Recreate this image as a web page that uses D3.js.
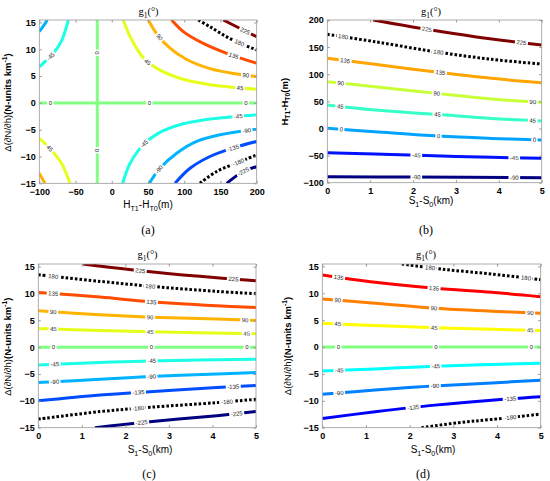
<!DOCTYPE html>
<html>
<head>
<meta charset="utf-8">
<script src="https://cdn.jsdelivr.net/npm/d3@7"></script>
<style>
  body { margin: 0; background: #fff; }
  svg { display: block; }
</style>
</head>
<body>
<svg id="chart" width="550" height="481"></svg>
<script>
// ---- datos ----
var ticksA_x = [-100, -50, 0, 50, 100, 150, 200];
var ticksDN = [-15, -10, -5, 0, 5, 10, 15];
var ticksS = [0, 1, 2, 3, 4, 5];
var ticksB_y = [-100, -50, 0, 50, 100, 150, 200];

// panel (a): x = HT1-HT0 (m), y = Δ(∂N/∂h)
var contoursA = [
  { level: 225,  pts: [[153.9, 15.46], [172.4, 14.2], [200, 12.35]] },
  { level: 180,  pts: [[119.4, 15.46], [135.5, 14.2], [163.1, 12.0], [200, 9.87]] },
  { level: 135,  pts: [[82.7, 15.46], [98.7, 13.3], [126.3, 11.1], [158.6, 9.25], [200, 7.4]] },
  { level: 90,   pts: [[50.4, 15.46], [62, 12.9], [80.4, 10.2], [103.4, 8.1], [135.5, 6.4], [172.4, 5.4], [200, 4.9]] },
  { level: 45,   pts: [[15.9, 15.46], [25.2, 12.4], [43.5, 8.4], [66.5, 6.1], [98.7, 4.4], [135.5, 3.4], [200, 2.55]] },
  { level: 0,    pts: [[-100, 0], [200, 0]] },
  { level: 0,    pts: [[-20, -15], [-20, 15.46]] },
  { level: -45,  pts: [[15, -15], [25.2, -11.3], [43.5, -7.8], [66.5, -5.5], [98.7, -3.9], [135.5, -3.0], [200, -2.23]] },
  { level: -90,  pts: [[51.8, -15], [66.5, -12.2], [89.6, -9.4], [117.2, -7.2], [149.3, -5.96], [200, -4.9]] },
  { level: -135, pts: [[87.3, -15], [108, -12.2], [135.5, -10.0], [167.7, -8.4], [200, -7.2]] },
  { level: -180, pts: [[121.7, -15], [144.8, -12.8], [172.4, -11.2], [200, -9.7]] },
  { level: -225, pts: [[158.6, -15], [181.5, -12.8], [200, -11.9]] },
  { level: -90,  pts: [[-100, 13.3], [-94, 14.4], [-89, 15.46]] },
  { level: -45,  pts: [[-100, 6.7], [-92.2, 7.7], [-80.7, 9.2], [-69.2, 11.6], [-60, 15.46]] },
  { level: 45,   pts: [[-100, -6.6], [-85.3, -8.5], [-69.2, -11.3], [-57.7, -15]] },
  { level: 90,   pts: [[-100, -13.1], [-96, -14.1], [-92.2, -15]] }
];
var labelsA = [
  [225, 183.8, 13.3], [180, 174.6, 10.8], [135, 167.7, 8.6], [90, 66.5, 12.3], [90, 185, 5.1],
  [45, 48.2, 7.4], [45, 177, 2.7], [0, -85, 0], [0, 51.8, 0], [0, 185, 0], [0, -20, 9.3], [0, -20, -8.8],
  [-45, -86.2, 8.9], [45, -85.2, -8.4], [-45, 48.2, -8.1], [-45, 174.6, -2.85], [-90, 65.6, -12.5],
  [-90, 186.2, -5.3], [-135, 167.7, -8.6], [-180, 174.6, -11.1], [-225, 183.8, -13.4]
];

// panel (b): x = S1-S0 (km), y = HT1-HT0 (m)
var contoursB = [
  { level: 225, pts: [[1.07, 200], [2.28, 183.4], [3.44, 169.3], [5, 153.9]] },
  { level: 180, pts: [[0, 173.6], [1.11, 160], [2.51, 141.6], [3.83, 127.5], [5, 118.8]] },
  { level: 135, pts: [[0, 129.3], [1.11, 118.2], [2.59, 103.5], [3.83, 92.4], [5, 84.4]] },
  { level: 90,  pts: [[0, 86.3], [1.11, 77], [2.55, 64.7], [3.83, 54.3], [5, 48.1]] },
  { level: 45,  pts: [[0, 43.2], [1.11, 34], [2.55, 26], [3.83, 18.6], [5, 13.7]] },
  { level: 0,   pts: [[0, 0.2], [1.11, -6], [2.59, -14], [3.83, -18.3], [5, -21.3]] },
  { level: -45, pts: [[0, -44.7], [1.11, -47.1], [2.12, -49.6], [3.83, -53.3], [5, -55.1]] },
  { level: -90, pts: [[0, -89], [1.89, -89.6], [5, -90.8]] }
];
var labelsB = [
  [225, 2.32, 182.8], [225, 4.53, 157], [180, 0.37, 167.4], [180, 2.59, 140.4],
  [135, 0.41, 123.2], [135, 2.64, 102.2], [90, 0.31, 83.2], [90, 2.55, 63.5], [90, 4.79, 49.4],
  [45, 0.3, 38.9], [45, 2.57, 26], [45, 4.79, 13.7], [0, 0.33, -2.9], [0, 2.59, -14], [0, 4.83, -21.3],
  [-45, 2.08, -49.6], [-45, 4.36, -53.9], [-90, 2.08, -89.6], [-90, 4.36, -90.8]
];

// panel (c): x = S1-S0 (km), y = Δ(∂N/∂h)
var contoursC = [
  { level: 225,  pts: [[1.03, 15.5], [2.34, 14.25], [3.71, 13.2], [5, 12.38]] },
  { level: 180,  pts: [[0, 13.5], [1.42, 12.26], [2.79, 11.2], [4.1, 10.4], [5, 9.96]] },
  { level: 135,  pts: [[0, 10.2], [1.42, 9.33], [2.56, 8.46], [4.1, 7.72], [5, 7.4]] },
  { level: 90,   pts: [[0, 6.78], [1.42, 6.04], [2.56, 5.6], [4.1, 5.23], [5, 4.98]] },
  { level: 45,   pts: [[0, 3.48], [1.42, 3.11], [2.56, 2.86], [5, 2.49]] },
  { level: 0,    pts: [[0, 0], [5, 0]] },
  { level: -45,  pts: [[0, -3.3], [1.42, -2.86], [2.56, -2.55], [5, -2.24]] },
  { level: -90,  pts: [[0, -6.6], [1.42, -5.97], [2.56, -5.48], [4.1, -4.98], [5, -4.73]] },
  { level: -135, pts: [[0, -10], [1.42, -8.9], [2.56, -8.28], [4.1, -7.53], [5, -7.16]] },
  { level: -180, pts: [[0, -13.4], [1.42, -12], [2.56, -11.2], [4.1, -10.33], [5, -9.7]] },
  { level: -225, pts: [[1.3, -15], [2.56, -13.88], [4.1, -12.76], [5, -12]] }
];
var labelsC = [
  [225, 2.34, 14.2], [225, 4.48, 12.6], [180, 0.34, 13.2], [180, 2.57, 11.4],
  [135, 0.34, 10], [135, 2.6, 8.4], [90, 0.34, 6.6], [90, 2.57, 5.6], [90, 4.75, 5.0],
  [45, 0.34, 3.4], [45, 2.57, 2.86], [45, 4.79, 2.5], [0, 0.34, 0], [0, 2.59, 0], [0, 4.79, 0],
  [-45, 0.38, -3.2], [-45, 2.6, -2.55], [-90, 0.38, -6.4], [-90, 2.6, -5.5],
  [-135, 2.3, -8.4], [-135, 4.48, -7.3], [-180, 2.3, -11.4], [-180, 4.33, -10.2],
  [-225, 2.37, -14], [-225, 4.56, -12.4]
];

// panel (d): x = S1-S0 (km), y = Δ(∂N/∂h)
var contoursD = [
  { level: 180,  pts: [[1.82, 15.45], [2.73, 14.5], [3.88, 13.58], [5, 12.53]] },
  { level: 135,  pts: [[0, 13.4], [1.21, 12.04], [2.58, 10.93], [3.88, 10.19], [5, 9.38]] },
  { level: 90,   pts: [[0, 8.95], [1.21, 8.15], [2.58, 7.22], [3.88, 6.67], [5, 6.3]] },
  { level: 45,   pts: [[0, 4.44], [1.21, 4.0], [2.58, 3.58], [5, 3.09]] },
  { level: 0,    pts: [[0, 0], [5, 0]] },
  { level: -45,  pts: [[0, -4.44], [1.21, -4.07], [2.58, -3.58], [5, -3.0]] },
  { level: -90,  pts: [[0, -8.77], [1.21, -8.0], [2.58, -7.22], [3.88, -6.67], [5, -6.17]] },
  { level: -135, pts: [[0, -13.27], [1.21, -12.04], [2.58, -10.8], [3.88, -9.88], [5, -9.26]] },
  { level: -180, pts: [[2.27, -15], [3.11, -14.07], [3.88, -13.46], [5, -12.47]] }
];
var labelsD = [
  [180, 2.47, 14.6], [180, 4.66, 12.8], [135, 0.37, 13], [135, 2.56, 10.9],
  [90, 0.35, 8.8], [90, 2.56, 7.2], [90, 4.76, 6.4], [45, 0.35, 4.4], [45, 2.56, 3.6], [45, 4.76, 3.1],
  [0, 0.37, 0], [0, 2.6, 0], [0, 4.79, 0], [-45, 0.39, -4.3], [-45, 2.6, -3.6],
  [-90, 0.39, -8.6], [-90, 2.58, -7.2], [-135, 2.08, -11.3], [-135, 4.3, -9.7], [-180, 4.3, -13]
];

var labelDN = [["Δ(∂N/∂h)", "", "normal"], ["(N-units km", ""], ["-1", "sup"], [")", ""]];
var labelH = [["H", ""], ["T1", "sub"], ["-H", ""], ["T0", "sub"], ["(m)", ""]];
var labelS = [["S", ""], ["1", "sub"], ["-S", ""], ["0", "sub"], ["(km)", ""]];
var titleG = [["g", ""], ["1", "sub"], ["(°)", ""]];

// ---- colormap jet de MATLAB ----
function jet(t) {
  function c(v) { return Math.max(0, Math.min(1, v)); }
  var r = c(1.5 - Math.abs(4 * t - 3)),
      g = c(1.5 - Math.abs(4 * t - 2)),
      b = c(1.5 - Math.abs(4 * t - 1));
  return d3.rgb(r * 255, g * 255, b * 255).toString();
}

var svg = d3.select("#chart");
var sans = "'Liberation Sans', Arial, sans-serif";
var serif = "'Liberation Serif', 'Times New Roman', serif";

function richText(sel, parts, size) {
  var shift = 0;
  parts.forEach(function(p) {
    var target = p[1] === "sub" ? size * 0.3 : p[1] === "sup" ? -size * 0.42 : 0;
    var ts = sel.append("tspan")
      .attr("dy", target - shift)
      .attr("font-size", p[1] ? size * 0.72 : size)
      .text(p[0]);
    if (p[2]) ts.attr("font-weight", p[2]);
    shift = target;
  });
}

function drawPanel(p) {
  var x = d3.scaleLinear().domain(p.xDomain).range([p.box.left, p.box.right]);
  var y = d3.scaleLinear().domain(p.yDomain).range([p.box.bottom, p.box.top]);
  var color = d3.scaleSequential(jet).domain(p.cDomain);
  var g = svg.append("g");

  svg.append("clipPath").attr("id", "clip-" + p.id)
    .append("rect")
    .attr("x", p.box.left).attr("y", p.box.top)
    .attr("width", p.box.right - p.box.left)
    .attr("height", p.box.bottom - p.box.top);

  var line = d3.line()
    .x(function(d) { return x(d[0]); })
    .y(function(d) { return y(d[1]); })
    .curve(d3.curveCatmullRom.alpha(0.5));

  var paths = g.append("g")
    .attr("clip-path", "url(#clip-" + p.id + ")")
    .selectAll("path")
    .data(p.contours)
    .enter().append("path")
    .attr("d", function(d) { return line(d.pts); })
    .attr("fill", "none")
    .attr("stroke", function(d) { return Math.abs(d.level) === 180 ? "#000" : color(d.level); })
    .attr("stroke-width", 3)
    .attr("stroke-dasharray", function(d) { return Math.abs(d.level) === 180 ? "2.6,2" : null; });

  // etiquetas de contorno, alineadas con la curva
  var labelLayer = g.append("g");
  p.labels.forEach(function(lb) {
    var tx = x(lb[1]), ty = y(lb[2]);
    var best = null;
    paths.filter(function(d) { return d.level === lb[0]; }).each(function() {
      var len = this.getTotalLength();
      for (var s = 0; s <= len; s += 0.5) {
        var pt = this.getPointAtLength(s);
        var dd = (pt.x - tx) * (pt.x - tx) + (pt.y - ty) * (pt.y - ty);
        if (!best || dd < best.dd) best = { dd: dd, s: s, node: this, len: len };
      }
    });
    if (!best) return;
    var a = best.node.getPointAtLength(Math.max(0, best.s - 3)),
        b = best.node.getPointAtLength(Math.min(best.len, best.s + 3)),
        c = best.node.getPointAtLength(best.s);
    var ang = Math.atan2(b.y - a.y, b.x - a.x) * 180 / Math.PI;
    if (ang > 90) ang -= 180;
    if (ang < -90) ang += 180;
    var lg = labelLayer.append("g")
      .attr("transform", "translate(" + c.x + "," + c.y + ") rotate(" + ang + ")");
    var t = lg.append("text")
      .attr("text-anchor", "middle")
      .attr("dy", "0.35em")
      .attr("font-family", sans)
      .attr("font-size", 6)
      .attr("fill", "#222")
      .text(lb[0]);
    var w = t.node().getComputedTextLength();
    lg.insert("rect", "text")
      .attr("x", -w / 2 - 1.5).attr("y", -3.6)
      .attr("width", w + 3).attr("height", 7.2)
      .attr("fill", "#fff");
  });

  // ejes con marcas hacia dentro
  var tk = 2.5;
  function styleAxis(sel) {
    sel.select(".domain").remove();
    sel.selectAll(".tick line").attr("stroke", "#999");
    sel.selectAll(".tick text")
      .attr("fill", "#000")
      .attr("font-family", sans)
      .attr("font-weight", "bold")
      .attr("font-size", 9);
  }
  var fmt = d3.format("d");
  g.append("g").attr("transform", "translate(0," + p.box.bottom + ")")
    .call(d3.axisBottom(x).tickValues(p.xTicks).tickFormat(fmt).tickSize(-tk).tickSizeOuter(0).tickPadding(5))
    .call(styleAxis);
  g.append("g").attr("transform", "translate(0," + p.box.top + ")")
    .call(d3.axisTop(x).tickValues(p.xTicks).tickSize(-tk).tickSizeOuter(0).tickFormat(""))
    .call(styleAxis);
  g.append("g").attr("transform", "translate(" + p.box.left + ",0)")
    .call(d3.axisLeft(y).tickValues(p.yTicks).tickFormat(fmt).tickSize(-tk).tickSizeOuter(0).tickPadding(3.5))
    .call(styleAxis);
  g.append("g").attr("transform", "translate(" + p.box.right + ",0)")
    .call(d3.axisRight(y).tickValues(p.yTicks).tickSize(-tk).tickSizeOuter(0).tickFormat(""))
    .call(styleAxis);

  g.append("rect")
    .attr("x", p.box.left).attr("y", p.box.top)
    .attr("width", p.box.right - p.box.left)
    .attr("height", p.box.bottom - p.box.top)
    .attr("fill", "none").attr("stroke", "#999").attr("stroke-width", 0.8);

  // textos
  var title = g.append("text").attr("x", p.title[0]).attr("y", p.title[1])
    .attr("text-anchor", "middle").attr("font-family", serif).attr("fill", "#000");
  richText(title, titleG, 10.5);

  var xl = g.append("text").attr("x", p.xLabel[0]).attr("y", p.xLabel[1])
    .attr("text-anchor", "middle").attr("font-family", sans).attr("fill", "#000");
  richText(xl, p.xText, 10);

  var yl = g.append("text")
    .attr("transform", "translate(" + p.yLabel[0] + "," + p.yLabel[1] + ") rotate(-90)")
    .attr("text-anchor", "middle").attr("font-family", sans).attr("font-weight", "bold")
    .attr("fill", "#000");
  richText(yl, p.yText, 9.5);

  g.append("text").attr("x", p.tag[0]).attr("y", p.tag[1])
    .attr("text-anchor", "middle").attr("font-family", serif).attr("font-size", 12)
    .attr("fill", "#000").text(p.tagText);
}

drawPanel({
  id: "a", box: { left: 39.3, right: 256.7, top: 20, bottom: 183.3 },
  xDomain: [-100, 200], yDomain: [-15, 15.46], cDomain: [-225, 225],
  xTicks: ticksA_x, yTicks: ticksDN, contours: contoursA, labels: labelsA,
  title: [148.5, 14.5], xLabel: [148, 208], yLabel: [10.5, 102.5], tag: [148, 233.5],
  xText: labelH, yText: labelDN, tagText: "(a)"
});
drawPanel({
  id: "b", box: { left: 327.3, right: 541.7, top: 20, bottom: 182.7 },
  xDomain: [0, 5], yDomain: [-100, 200], cDomain: [-90, 225],
  xTicks: ticksS, yTicks: ticksB_y, contours: contoursB, labels: labelsB,
  title: [431, 14.5], xLabel: [431, 204], yLabel: [287.5, 101.7], tag: [426, 233.5],
  xText: labelS, yText: labelH, tagText: "(b)"
});
drawPanel({
  id: "c", box: { left: 38.3, right: 256, top: 264, bottom: 427.7 },
  xDomain: [0, 5], yDomain: [-15, 15.5], cDomain: [-225, 225],
  xTicks: ticksS, yTicks: ticksDN, contours: contoursC, labels: labelsC,
  title: [147.5, 257.5], xLabel: [150, 453], yLabel: [10.5, 346.7], tag: [149, 477.5],
  xText: labelS, yText: labelDN, tagText: "(c)"
});
drawPanel({
  id: "d", box: { left: 322.3, right: 540.7, top: 264, bottom: 427.7 },
  xDomain: [0, 5], yDomain: [-15, 15.45], cDomain: [-180, 180],
  xTicks: ticksS, yTicks: ticksDN, contours: contoursD, labels: labelsD,
  title: [426, 257.5], xLabel: [433, 453], yLabel: [291, 346], tag: [423, 477.5],
  xText: labelS, yText: labelDN, tagText: "(d)"
});
</script>
</body>
</html>
